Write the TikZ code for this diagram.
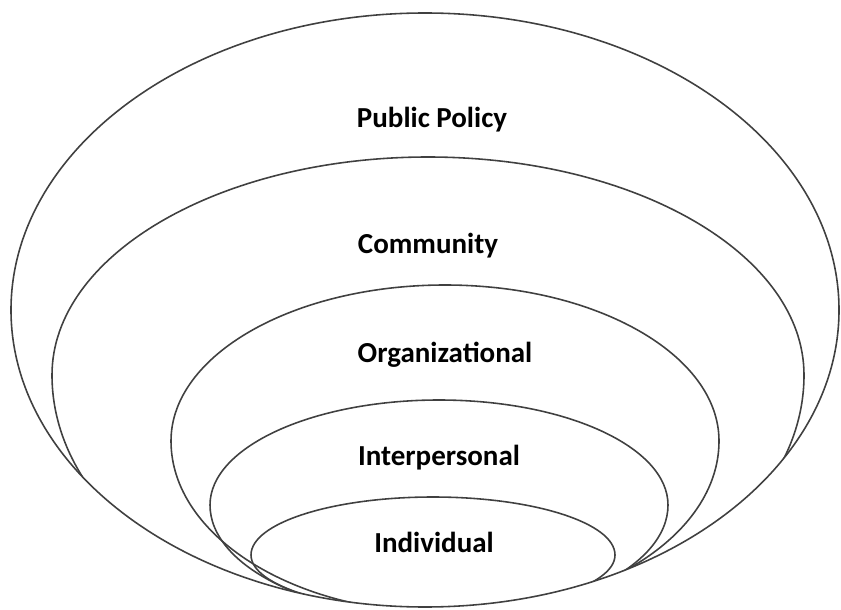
\documentclass[tikz,border=0pt]{standalone}
\usepackage{fontspec}
\setmainfont{Carlito}
\usepackage{tikz}

\tikzset{
	ring/.style={draw=black!75, line width=0.9pt},
	ringtext/.style={font=\bfseries\fontsize{16.5}{19}\selectfont, inner sep=0pt},
}

% upper half radius, lower half radius
\newcommand{\halfring}[4]{%
	(#1) arc[start angle=180, end angle=0, x radius=#2, y radius=#3]
	arc[start angle=0, end angle=-180, x radius=#2, y radius=#4] -- cycle}

\begin{document}
\begin{tikzpicture}[x=0.02cm, y=0.02cm]
		
		% ---------------------
		% Proper size --- Bounding box
		\useasboundingbox (0,0) rectangle (841,609);
		
		% ---------------------
		% Ring centres & left ends
		
		\coordinate (OuterC) at (425,299);
		
		\coordinate (CommC) at (428,234);
		\coordinate (OrgC) at (445,168);
		\coordinate (InterC) at (439,104);
		\coordinate (IndC) at (433,54);
		
		\path (CommC) +(-376,0) coordinate (CommW);
		\path (OrgC) +(-274,0) coordinate (OrgW);
		\path (InterC) +(-229,0) coordinate (InterW);
		\path (IndC) +(-182,0) coordinate (IndW);
		
		% ---------------------
		% Rings
		
		\draw[ring] (OuterC) ellipse [x radius=414, y radius=297];
		
		\begin{scope}
			\clip (OuterC) ellipse [x radius=414, y radius=297];
			
			\draw[ring] \halfring{CommW}{376}{218}{258};
			\draw[ring] \halfring{OrgW}{274}{156}{172};
			\draw[ring] \halfring{InterW}{229}{105}{112};
			\draw[ring] \halfring{IndW}{182}{58}{56};
		\end{scope}
		
		% ---------------------
		% Labels
		
		\node[ringtext] (Policy) at (432,489) {Public Policy};
		\node[ringtext] (Comm) at (428,363) {Community};
		\node[ringtext] (Org) at (445,254) {Organizational};
		\node[ringtext] (Inter) at (439,151) {Interpersonal};
		\node[ringtext] (Ind) at (434,67) {Individual};
		
\end{tikzpicture}
\end{document}
